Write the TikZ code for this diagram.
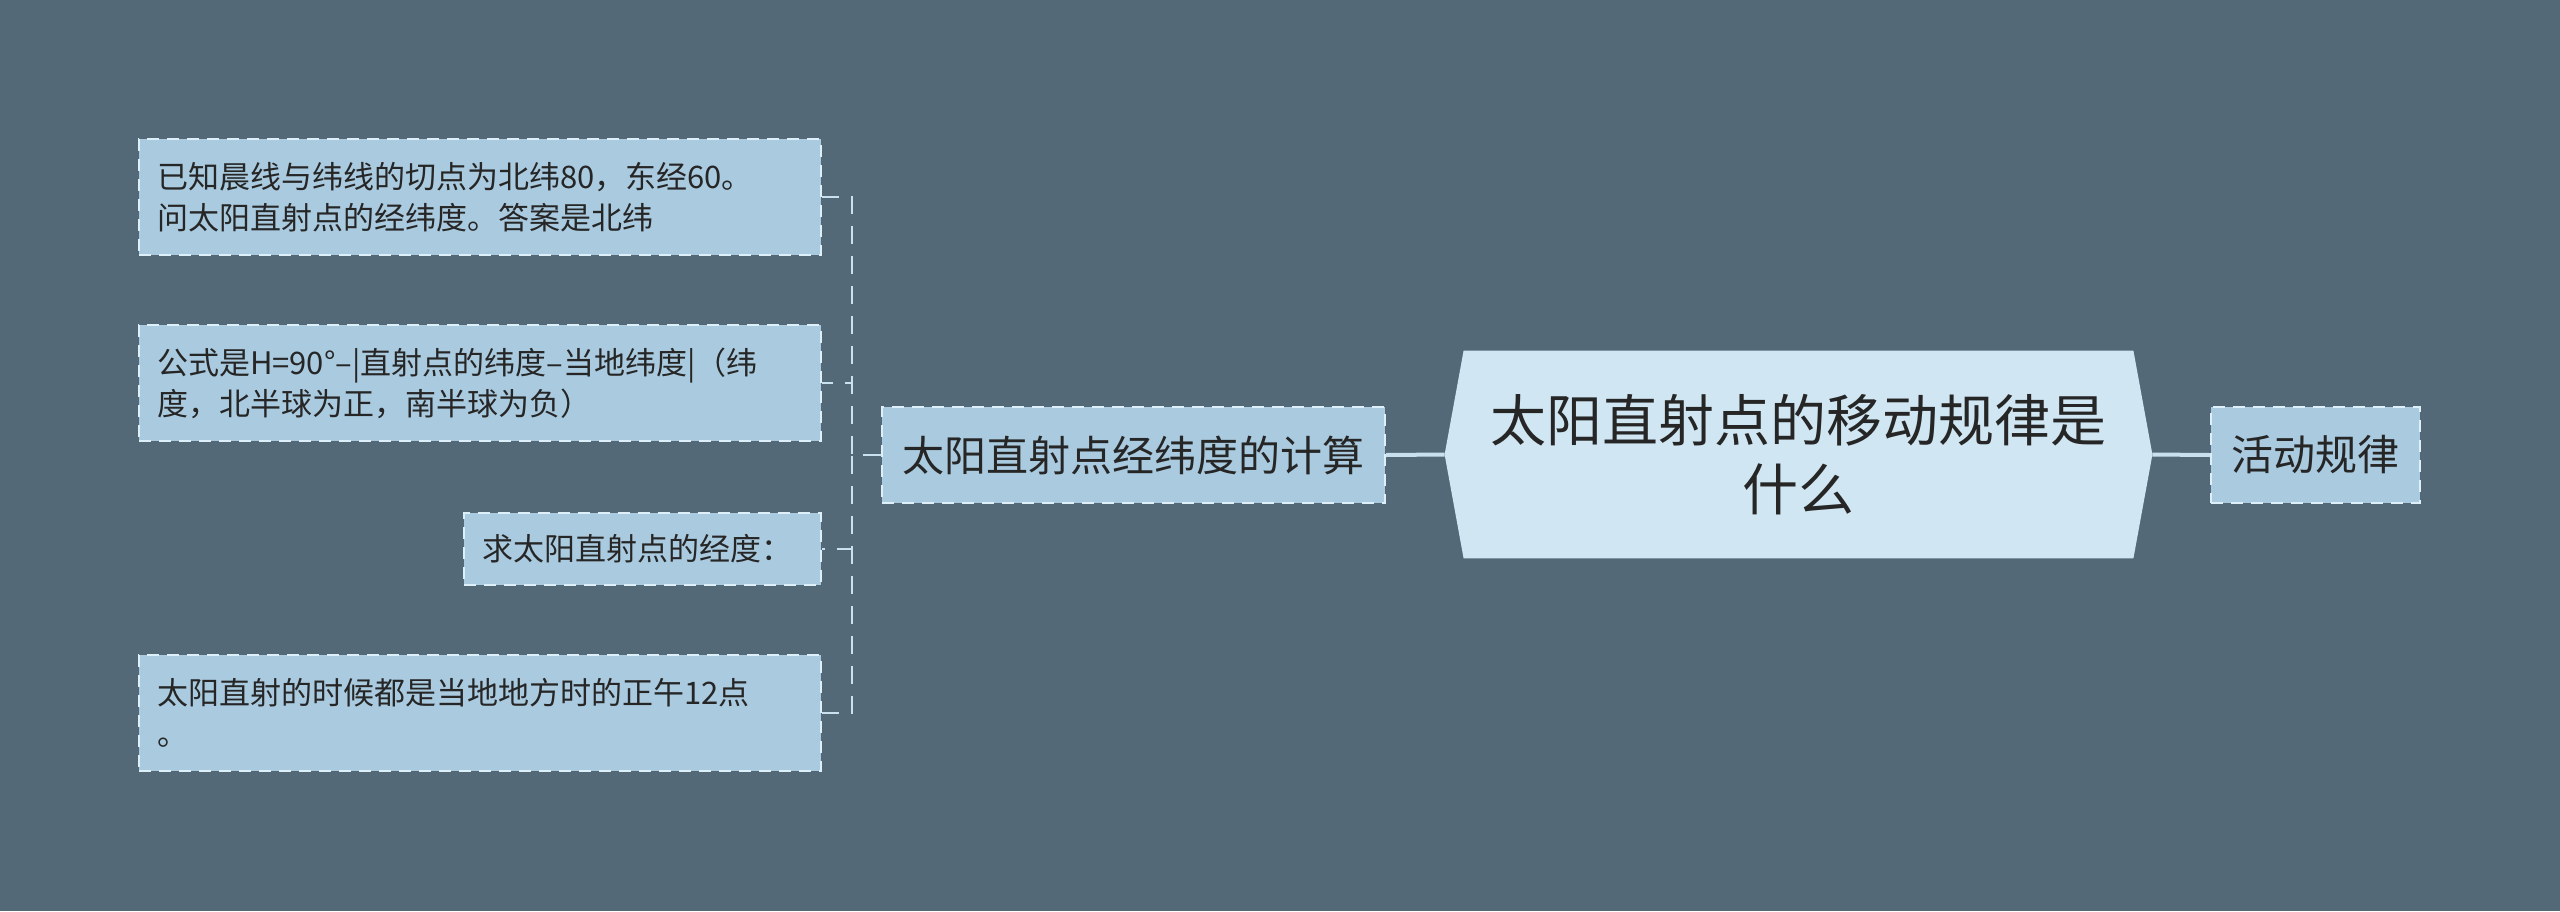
\documentclass[tikz,border=0pt]{standalone}
\usepackage{fontspec}
\setmainfont{Noto Sans CJK SC}
\definecolor{bg}{HTML}{536978}
\definecolor{boxfill}{HTML}{A9CADF}
\definecolor{hexfill}{HTML}{D0E7F3}
\definecolor{edge}{HTML}{DDEFF8}
\definecolor{conncol}{HTML}{C9E1EE}
\definecolor{txt}{HTML}{262626}
\begin{document}
\begin{tikzpicture}[x=0.5pt,y=-0.5pt,
  leafbox/.style={draw=edge, fill=boxfill, line width=1pt, dash pattern=on 6pt off 4pt,
    text=txt, font=\fontsize{15.5pt}{20.5pt}\selectfont, align=left,
    inner xsep=9pt, inner ysep=0pt, anchor=center},
  midbox/.style={draw=edge, fill=boxfill, line width=1pt, dash pattern=on 6pt off 4pt,
    text=txt, font=\fontsize{21pt}{26pt}\selectfont, inner sep=0pt, anchor=center},
  conn/.style={draw=conncol, line width=1pt, dash pattern=on 9pt off 6pt},
  rootconn/.style={draw=conncol, line width=2pt}
]
\useasboundingbox[fill=bg] (0,0) rectangle (2560,911);

% grandchildren
\node[leafbox, text width=323pt, minimum height=58pt] (g1) at (480,197)
  {已知晨线与纬线的切点为北纬80，东经60。\\问太阳直射点的经纬度。答案是北纬};
\node[leafbox, text width=323pt, minimum height=58pt] (g2) at (480,383)
  {公式是H=90°–|直射点的纬度–当地纬度|（纬\\度，北半球为正，南半球为负）};
\node[leafbox, text width=160.5pt, minimum height=36pt] (g3) at (642.5,549)
  {求太阳直射点的经度：};
\node[leafbox, text width=323pt, minimum height=58pt] (g4) at (480,713)
  {太阳直射的时候都是当地地方时的正午12点\\。};

% child
\node[midbox, minimum width=251.5pt, minimum height=48pt] (child) at (1133.5,455)
  {太阳直射点经纬度的计算};

% root hexagon
\node[minimum width=353.5pt, minimum height=103.5pt, inner sep=0pt] (root) at (1798.5,454.5) {};
\fill[hexfill] (root.west) -- ([xshift=9.5pt]root.north west) -- ([xshift=-9.5pt]root.north east)
  -- (root.east) -- ([xshift=-9.5pt]root.south east) -- ([xshift=9.5pt]root.south west) -- cycle;
\node[text=txt, font=\fontsize{28pt}{34.5pt}\selectfont, align=center] (roottext) at (root.center)
  {太阳直射点的移动规律是\\什么};

% right child
\node[midbox, minimum width=104.5pt, minimum height=48pt] (right) at (2315.5,455)
  {活动规律};

% connectors
\coordinate (bus) at (852,455);
\draw[conn] (child.west) -- (bus) |- (g1.east);
\draw[conn] (child.west) -- (bus) |- (g2.east);
\draw[conn] (child.west) -- (bus) |- (g3.east);
\draw[conn] (child.west) -- (bus) |- (g4.east);
\draw[rootconn] (root.west) -- (child.east);
\draw[rootconn] (root.east) -- (right.west);
\end{tikzpicture}
\end{document}
